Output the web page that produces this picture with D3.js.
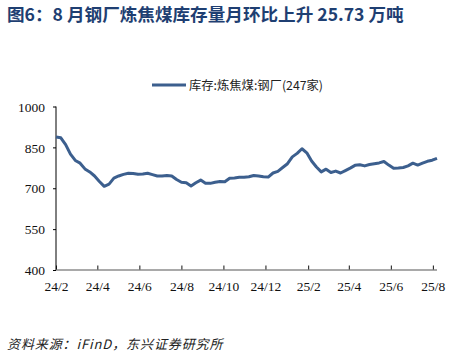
<!DOCTYPE html>
<html><head><meta charset="utf-8">
<script src="https://cdn.jsdelivr.net/npm/d3@7"></script>
<style>body{margin:0;background:#fff}svg{display:block}</style>
</head><body>
<script>
const title = "图6：8 月钢厂炼焦煤库存量月环比上升 25.73 万吨";
const seriesName = "库存:炼焦煤:钢厂(247家)";
const source = "资料来源：iFinD，东兴证券研究所";
const startDate = "2024-02-01"; // weekly, Thursdays
const values = [888,885,860,825,802,792,771,760,745,725,
707,715,737,745,751,755,754,751,752,755,
750,745,745,747,745,732,722,720,708,720,
730,718,718,722,725,724,737,738,740,740,
742,747,745,742,741,756,762,776,790,815,
828,845,830,800,778,760,770,758,763,756,
765,774,784,786,782,787,790,793,798,785,
773,774,776,782,792,785,792,799,803,810];
const yTicks = [400,550,700,850,1000];
const xTickLabels = ["24/2","24/4","24/6","24/8","24/10","24/12","25/2","25/4","25/6","25/8"];

const W=460,H=357;
const svg=d3.select("body").append("svg").attr("width",W).attr("height",H);
const parse=d3.timeParse("%Y-%m-%d");
const t0=parse(startDate);
const data=values.map((v,i)=>({d:d3.timeDay.offset(t0,i*7),v}));
const x=d3.scaleTime().domain(d3.extent(data,d=>d.d)).range([56,437]);
const y=d3.scaleLinear().domain([400,1000]).range([270,106.5]);
const serif="'Liberation Serif', 'Times New Roman', serif";

svg.append("text").attr("x",7).attr("y",21).text(title)
 .attr("font-family","'Noto Sans CJK SC', sans-serif").attr("font-weight","bold")
 .attr("font-size",17.6).attr("fill","#1f3f72");

// legend
svg.append("line").attr("x1",152).attr("x2",186).attr("y1",85).attr("y2",85)
 .attr("stroke","#3c5f8e").attr("stroke-width",3);
svg.append("text").attr("x",189).attr("y",89.5).text(seriesName)
 .attr("font-family","'Noto Sans CJK SC', sans-serif").attr("font-size",12.3).attr("fill","#222");

// y axis
const ya=svg.append("g").attr("transform","translate(56,0)")
 .call(d3.axisLeft(y).tickValues(yTicks).tickSize(3).tickFormat(d3.format("d")));
ya.select(".domain").attr("stroke","#000").attr("d","M0,106.5V270");
ya.selectAll(".tick line").attr("stroke","#000");
ya.selectAll("text").attr("font-family",serif).attr("font-size",13.5).attr("fill","#111").attr("x",-11).attr("dy","0.35em");

// x axis
const xTickDates=xTickLabels.map(s=>{const [yy,mm]=s.split("/");return new Date(2000+ +yy,+mm-1,1);});
const xa=svg.append("g").attr("transform","translate(0,270)")
 .call(d3.axisBottom(x).tickValues(xTickDates).tickSize(0).tickFormat((d,i)=>xTickLabels[i]));
xa.select(".domain").attr("stroke","#8c8c8c").attr("stroke-width",1.5).attr("d","M56,0H437");
xa.selectAll(".tick").append("line").attr("y1",-0.5).attr("y2",-4.5).attr("stroke","#111");
xa.selectAll("text").attr("font-family",serif).attr("font-size",13.5).attr("fill","#111").attr("dy","1.35em");

// line
svg.append("path").datum(data)
 .attr("d",d3.line().x(d=>x(d.d)).y(d=>y(d.v)))
 .attr("fill","none").attr("stroke","#3c5f8e").attr("stroke-width",3).attr("stroke-linejoin","round");

svg.append("text").attr("x",7).attr("y",349).text(source)
 .attr("font-family","'Noto Sans CJK SC', sans-serif").attr("font-style","italic")
 .attr("font-size",13).attr("letter-spacing",0.9).attr("fill","#222");
</script>
</body></html>
